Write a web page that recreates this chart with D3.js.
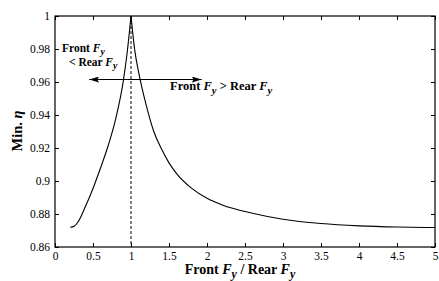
<!DOCTYPE html>
<html>
<head>
<meta charset="utf-8">
<script src="https://cdn.jsdelivr.net/npm/d3@7"></script>
<style>
body { margin: 0; background: #fff; }
svg { display: block; }
svg text { font-family: "Liberation Serif", "Times New Roman", serif; }
</style>
</head>
<body>
<div id="chart"></div>
<script>
// ratio front/rear Fy vs min eta
var ratio = [0.2, 0.25, 0.3, 0.4, 0.5, 0.6, 0.7, 0.8, 0.9, 0.95, 1.0,
             1.05, 1.1, 1.2, 1.3, 1.4, 1.5, 1.6, 1.8, 2.0, 2.2, 2.6, 3.0, 3.5, 4.0, 4.5, 5.0];
var eta   = [0.872, 0.8725, 0.875, 0.8845, 0.8955, 0.908, 0.9215, 0.938, 0.961, 0.978, 1.0,
             0.979, 0.966, 0.946, 0.930, 0.9195, 0.911, 0.9045, 0.8955, 0.8895, 0.8855, 0.8805, 0.8768, 0.8742, 0.8728, 0.8721, 0.8718];
var xTicks = [0, 0.5, 1, 1.5, 2, 2.5, 3, 3.5, 4, 4.5, 5];
var yTicks = [0.86, 0.88, 0.9, 0.92, 0.94, 0.96, 0.98, 1];

var W = 439, H = 281;
var m = {left: 55, right: 3, top: 16, bottom: 34};
var FONT = "Liberation Serif, Times New Roman, serif";

var svg = d3.select("#chart").append("svg")
  .attr("width", W).attr("height", H)
  .attr("font-family", FONT);

var x = d3.scaleLinear().domain([0, 5]).range([m.left, W - m.right - 1]);
var y = d3.scaleLinear().domain([0.86, 1]).range([H - m.bottom, m.top]);

var fmt = function(d) { return String(d); };

function clean(g) {
  g.attr("font-family", FONT).attr("font-size", 11.5);
  g.select(".domain").remove();
  g.selectAll(".tick text").attr("fill", "#000");
}

svg.append("g").attr("transform", "translate(0," + y(0.86) + ")")
  .call(d3.axisBottom(x).tickValues(xTicks).tickFormat(fmt).tickSizeInner(-4).tickSizeOuter(0).tickPadding(5))
  .call(clean);
svg.append("g").attr("transform", "translate(0," + y(1) + ")")
  .call(d3.axisTop(x).tickValues(xTicks).tickFormat("").tickSizeInner(-4).tickSizeOuter(0))
  .call(clean);
svg.append("g").attr("transform", "translate(" + x(0) + ",0)")
  .call(d3.axisLeft(y).tickValues(yTicks).tickFormat(fmt).tickSizeInner(-4).tickSizeOuter(0).tickPadding(5))
  .call(clean);
svg.append("g").attr("transform", "translate(" + x(5) + ",0)")
  .call(d3.axisRight(y).tickValues(yTicks).tickFormat("").tickSizeInner(-4).tickSizeOuter(0))
  .call(clean);

svg.append("rect")
  .attr("x", x(0)).attr("y", y(1))
  .attr("width", x(5) - x(0)).attr("height", y(0.86) - y(1))
  .attr("fill", "none").attr("stroke", "#000").attr("stroke-width", 1.2);

// dashed line at ratio 1
svg.append("line")
  .attr("x1", x(1)).attr("x2", x(1)).attr("y1", y(1)).attr("y2", y(0.86))
  .attr("stroke", "#000").attr("stroke-dasharray", "3,2");

// split at peak so the cusp stays sharp
var peak = ratio.indexOf(1.0);
function branch(from, to) {
  var pts = d3.range(from, to + 1).map(function(i) { return [ratio[i], eta[i]]; });
  svg.append("path").datum(pts)
    .attr("d", d3.line().x(function(d) { return x(d[0]); }).y(function(d) { return y(d[1]); }).curve(d3.curveMonotoneX))
    .attr("fill", "none").attr("stroke", "#000").attr("stroke-width", 1.1);
}
branch(0, peak);
branch(peak, ratio.length - 1);

// arrow
var defs = svg.append("defs");
defs.append("marker").attr("id", "ah").attr("viewBox", "0 0 10 6")
  .attr("refX", 10).attr("refY", 3).attr("markerWidth", 10).attr("markerHeight", 6)
  .attr("markerUnits", "userSpaceOnUse").attr("orient", "auto-start-reverse")
  .append("path").attr("d", "M0,0 L10,3 L0,6 L2,3 Z").attr("fill", "#000");
svg.append("line")
  .attr("x1", x(0.45)).attr("x2", x(1.93)).attr("y1", y(0.9615)).attr("y2", y(0.9615))
  .attr("stroke", "#000").attr("stroke-width", 1.1)
  .attr("marker-start", "url(#ah)").attr("marker-end", "url(#ah)");

function richText(parts, xx, yy, size, anchor, tr) {
  var tx = svg.append("text").attr("font-weight", "bold")
    .attr("text-anchor", anchor || "start").attr("font-size", size);
  if (tr) tx.attr("transform", tr); else tx.attr("x", xx).attr("y", yy);
  parts.forEach(function(p) {
    var s = tx.append("tspan").text(p.t);
    if (p.i) s.attr("font-style", "italic");
    if (p.sub) s.attr("dy", size * 0.28).attr("font-size", size * 0.85);
    if (p.up) s.attr("dy", -size * 0.28);
  });
  return tx;
}
var F = {t: "F", i: 1}, Y = {t: "y", i: 1, sub: 1};
richText([{t: "Front "}, F, Y], 62, 52, 11.5);
richText([{t: "< Rear "}, F, Y], 69, 66, 11.5);
richText([{t: "Front "}, F, Y, {t: " > Rear ", up: 1}, F, Y], 170, 90, 12.5);

// axis titles
richText([{t: "Front "}, F, Y, {t: " / Rear ", up: 1}, F, Y], 240, 274, 14, "middle");
richText([{t: "Min. "}, {t: "η", i: 1}], 0, 0, 14.5, "middle", "translate(22,131) rotate(-90)");
</script>
</body>
</html>
